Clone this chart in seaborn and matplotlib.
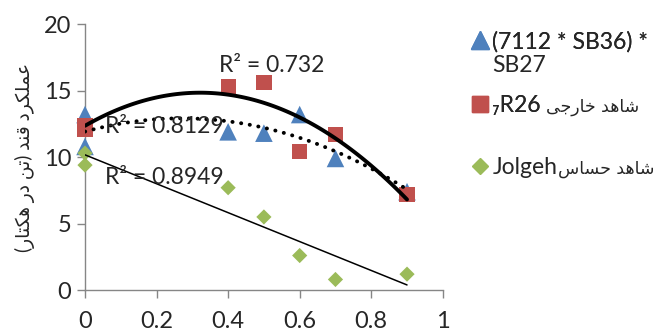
import matplotlib
matplotlib.use("Agg")
import matplotlib.pyplot as plt
import seaborn as sns
import numpy as np
import pandas as pd
from matplotlib.lines import Line2D

# ---- data ----
x_vals = [0, 0, 0.4, 0.5, 0.6, 0.7, 0.9]
blue_vals = [13.2, 10.8, 11.9, 11.8, 13.2, 9.9, 7.4]
red_vals = [12.4, 12.1, 15.3, 15.6, 10.4, 11.7, 7.2]
green_vals = [10.3, 9.4, 7.7, 5.5, 2.6, 0.8, 1.2]

# visual-order Arabic (presentation forms)
def vis(s):
    return s[::-1]
shahed = "\uFEB7\uFE8E\uFEEB\uFEAA"
khareji = "\uFEA7\uFE8E\uFEAD\uFE9F\uFEF0"
hassas = "\uFEA3\uFEB4\uFE8E\uFEB1"
amalkard = "\uFECB\uFEE4\uFEE0\uFB91\uFEAE\uFEA9"
ghand = "\uFED7\uFEE8\uFEAA"
tan = "\uFE97\uFEE6"
dar = "\uFEA9\uFEAD"
hectar = "\uFEEB\uFB91\uFE98\uFE8E\uFEAD"

labels_latin = ["(7112 * SB36) *", "\u2087R26", "Jolgeh"]
label1_second_line = "SB27"
labels_arabic = ["", vis(khareji) + " " + vis(shahed), vis(hassas) + " " + vis(shahed)]
ylabel = "(" + vis(hectar) + " " + vis(dar) + " " + vis(tan) + ") " + vis(ghand) + " " + vis(amalkard)
r2_texts = ["R\u00b2 = 0.8129", "R\u00b2 = 0.732", "R\u00b2 = 0.8949"]
colors = ["#4F81BD", "#C0504D", "#9BBB59"]
markers = ["^", "s", "D"]
msizes = [160, 120, 60]

sns.set_theme(style="white")
plt.rcParams["font.family"] = ["Lato", "DejaVu Sans"]

fig = plt.figure(figsize=(6.56, 3.35), dpi=100)
ax = fig.add_axes([0.1296, 0.134, 0.675 - 0.1296, 0.928 - 0.134])

series = [blue_vals, red_vals, green_vals]
for vals, c, m, s in zip(series, colors, markers, msizes):
    df = pd.DataFrame({"x": x_vals, "y": vals})
    sns.scatterplot(data=df, x="x", y="y", color=c, marker=m, s=s,
                    edgecolor="none", ax=ax, zorder=3, clip_on=False)

# trend lines
df_b = pd.DataFrame({"x": x_vals, "y": blue_vals})
df_r = pd.DataFrame({"x": x_vals, "y": red_vals})
df_g = pd.DataFrame({"x": x_vals, "y": green_vals})
sns.regplot(data=df_b, x="x", y="y", order=2, ci=None, scatter=False, ax=ax,
            line_kws=dict(color="black", lw=2.8, ls=(0, (0.05, 2.2)),
                          dash_capstyle="round", solid_capstyle="round", zorder=4))
sns.regplot(data=df_r, x="x", y="y", order=2, ci=None, scatter=False, ax=ax,
            line_kws=dict(color="black", lw=2.8, zorder=4))
sns.regplot(data=df_g, x="x", y="y", order=1, ci=None, scatter=False, ax=ax,
            line_kws=dict(color="black", lw=1.1, zorder=4))

ax.text(0.056, 12.3, r2_texts[0], fontsize=16.5, va="center", ha="left", zorder=5)
ax.text(0.374, 16.9, r2_texts[1], fontsize=16.5, va="center", ha="left", zorder=5)
ax.text(0.056, 8.5, r2_texts[2], fontsize=16.5, va="center", ha="left", zorder=5)

ax.set_xlim(0, 1)
ax.set_ylim(0, 20)
ax.set_xticks([0, 0.2, 0.4, 0.6, 0.8, 1])
ax.set_xticklabels(["0", "0.2", "0.4", "0.6", "0.8", "1"])
ax.set_yticks([0, 5, 10, 15, 20])
ax.set_xlabel("")
ax.set_ylabel(ylabel, fontsize=13.5, labelpad=6)
for sp in ["top", "right"]:
    ax.spines[sp].set_visible(False)
for sp in ["left", "bottom"]:
    ax.spines[sp].set_color("#868686")
    ax.spines[sp].set_linewidth(1.0)
ax.tick_params(axis="both", which="both", direction="out", length=6, width=1,
               color="#868686", labelsize=17, pad=4, bottom=True, left=True)
ax.tick_params(axis="x", pad=9)

# legend
h = [Line2D([], [], ls="none", marker=m, color=c, markersize=ms)
     for m, c, ms in zip(markers, colors, [13, 11, 8.5])]
leg_kw = dict(loc="upper left", frameon=False, fontsize=16.5, handletextpad=0.05,
              handlelength=1.0, borderaxespad=0)
leg1 = fig.legend([h[0]], [labels_latin[0]], bbox_to_anchor=(0.70, 0.935), **leg_kw)
fig.add_artist(leg1)
leg2 = fig.legend([h[1]], [labels_latin[1]], bbox_to_anchor=(0.70, 0.745), **leg_kw)
fig.add_artist(leg2)
leg3 = fig.legend([h[2]], [labels_latin[2]], bbox_to_anchor=(0.70, 0.558), **leg_kw)

fig.canvas.draw()
inv = fig.transFigure.inverted()
bb1 = leg1.get_texts()[0].get_window_extent()
fx, fy = inv.transform((bb1.x0, bb1.y0 - 3))
fig.text(fx, fy, label1_second_line, ha="left", va="top", fontsize=16.5)
for leg, ar, gap in [(leg2, labels_arabic[1], 5), (leg3, labels_arabic[2], 1)]:
    bb = leg.get_texts()[0].get_window_extent()
    fx, fy = inv.transform((bb.x1 + gap, bb.y0 + 0.42 * bb.height))
    fig.text(fx, fy, ar, ha="left", va="center", fontsize=12.5, family="DejaVu Sans")

fig.savefig("out.png", dpi=100)
